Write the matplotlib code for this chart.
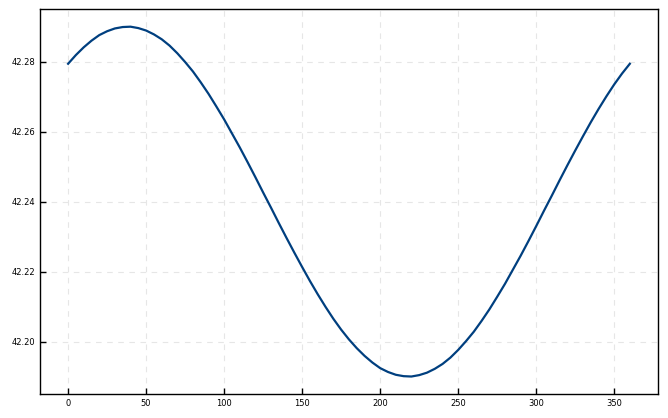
import matplotlib
matplotlib.use("Agg")
import matplotlib.pyplot as plt

angles = list(range(0, 361, 5))
values = [42.2794, 42.2819, 42.2841, 42.2860, 42.2876, 42.2887, 42.2895, 42.2899, 42.2900,
          42.2896, 42.2889, 42.2878, 42.2864, 42.2846, 42.2824, 42.2799, 42.2772, 42.2741,
          42.2708, 42.2672, 42.2635, 42.2595, 42.2555, 42.2513, 42.2470, 42.2426, 42.2383,
          42.2339, 42.2296, 42.2254, 42.2213, 42.2173, 42.2135, 42.2099, 42.2065, 42.2034,
          42.2006, 42.1981, 42.1959, 42.1940, 42.1924, 42.1913, 42.1905, 42.1901, 42.1900,
          42.1904, 42.1911, 42.1922, 42.1936, 42.1954, 42.1976, 42.2001, 42.2028, 42.2059,
          42.2092, 42.2128, 42.2165, 42.2205, 42.2245, 42.2287, 42.2330, 42.2374, 42.2417,
          42.2461, 42.2504, 42.2546, 42.2587, 42.2627, 42.2665, 42.2701, 42.2735, 42.2766,
          42.2794]

fig = plt.figure(figsize=(6.68, 4.18), dpi=100)
ax = fig.add_axes([0.0599, 0.0574, 0.925, 0.9206])
ax.plot(angles, values, color="#003f7f", linewidth=1.6)
ax.grid(True, linestyle=(0, (5, 5)), color="#e6e6e6", linewidth=0.8)
ax.set_axisbelow(True)
ax.tick_params(direction="in", length=4, width=1, labelsize=6)
ax.set_xticks([0, 50, 100, 150, 200, 250, 300, 350])
ax.set_yticks([42.20, 42.22, 42.24, 42.26, 42.28])
ax.yaxis.set_major_formatter(matplotlib.ticker.FormatStrFormatter("%.2f"))
for s in ax.spines.values():
    s.set_linewidth(1)
fig.savefig("out.png", dpi=100)
